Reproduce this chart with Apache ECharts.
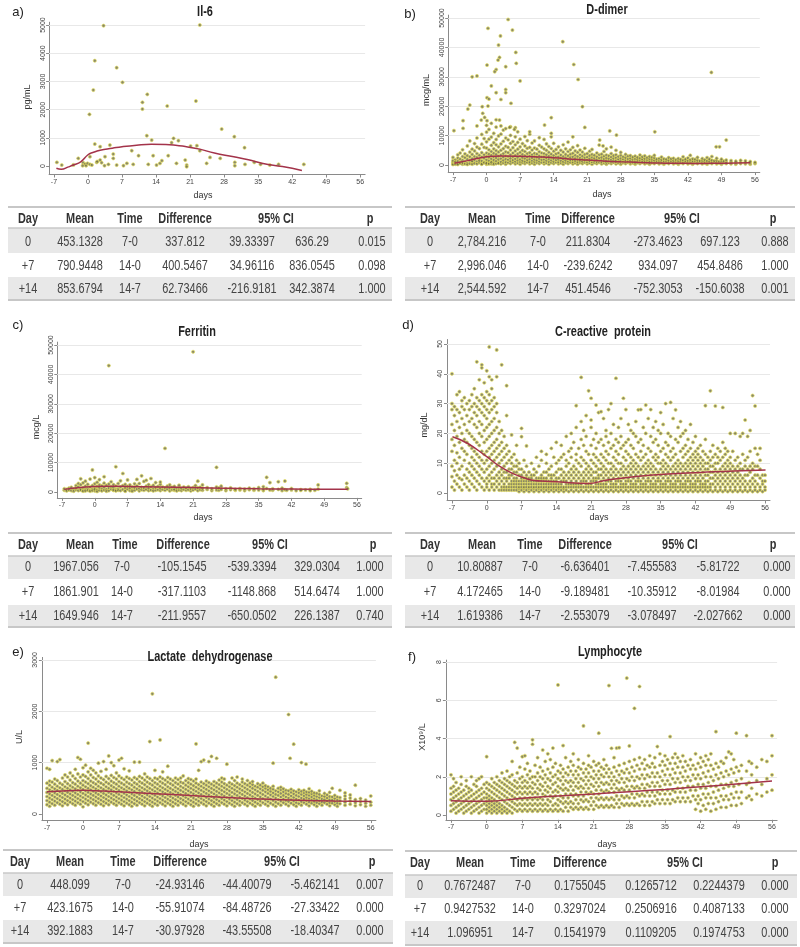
<!DOCTYPE html>
<html><head><meta charset="utf-8">
<script src="https://cdn.jsdelivr.net/npm/echarts@6/dist/echarts.min.js"></script>
<style>html,body{margin:0;padding:0;background:#fff}#c{width:800px;height:947px}</style>
</head><body><div id="c"></div>
<script>
// ---------------- DATA ----------------
const panelLetters = ['a)','b)','c)','d)','e)','f)'];
const panelTitles = ['Il-6','D-dimer','Ferritin','C-reactive  protein','Lactate  dehydrogenase','Lymphocyte'];
const yUnits = ['pg/mL','mcg/mL','mcg/L','mg/dL','U/L','X10\u2079/L'];
const xName = 'days';
const dayTicks = [-7,0,7,14,21,28,35,42,49,56];
const il6Ticks = [0,1000,2000,3000,4000,5000];
const ddTicks = [0,10000,20000,30000,40000,50000];
const ferTicks = [0,10000,20000,30000,40000,50000];
const crpTicks = [0,10,20,30,40,50];
const ldhTicks = [0,1000,2000,3000];
const lymTicks = [0,2,4,6,8];

const il6Pts = [[3.2,4976],[23,5000],[1.4,3735],[5.9,3487],[7.1,2967],[1.1,2695],[12.2,2541],[11.2,2258],[11.2,2021],[22.2,2305],[16.3,2128],[0.3,1832],[27.5,1312],[30.1,1040],[12.1,1075],[13.1,922],[17.6,981],[18.6,898],[17.2,827],[1.4,780],[4.5,745],[2.5,686],[21.1,709],[22.4,721],[32.2,650],[23,544],[9,544],[10.4,366],[13.4,366],[16.5,366],[5.2,425],[3.5,331],[-2,272],[0.4,331],[2.5,213],[5.2,272],[25.1,307],[27.2,272],[30.2,130],[34.2,130],[35.5,59],[37.4,35],[39.2,59],[44.4,59],[-6.4,130],[-5.4,35],[-1,118],[-0.6,71],[-0.1,95],[0.4,59],[-1.1,12],[-0.4,12],[0.8,35],[1.8,130],[2.8,118],[3.4,12],[4.2,59],[5.9,35],[7.3,12],[8,95],[9.3,59],[12.4,59],[14.1,35],[14.8,95],[15.2,190],[18.2,95],[20,213],[20.3,35],[20.3,-24],[24.4,95],[30.2,12],[32.3,59],[-3,40],[1.9,160]];
const il6Fit = [[-6.5,-80],[-5.5,-115],[-4,-30],[-3,35],[-1.5,150],[0,400],[1,480],[2.5,560],[5,630],[7,685],[10,740],[13,770],[16,765],[18,740],[20,690],[23,600],[26,460],[30,330],[33,220],[36,90],[40,-20],[44,-160]];

const ddOut = [[4.5,49500],[0.3,46500],[5.4,45900],[2.9,43900],[15.9,41960],[2.5,40800],[6.1,38300],[46.9,31500],[2.7,36600],[2.4,35700],[6.2,34600],[18.2,34200],[0.1,34000],[4,33450],[2,32500],[1.7,31750],[-3,30000],[-2,30300],[19.1,29100],[7,28600],[1,26900],[4,25700],[4,24600],[2,24600],[3,22300],[0.1,22900],[0.5,22450],[5.1,21000],[20,19850],[-3.5,20400],[0.3,20070],[-0.9,19850],[-3.9,19050],[-0.8,17600],[-0.4,16200],[13.5,16100],[0.1,15100],[-4.9,15100],[2.7,15300],[20.5,12800],[12.1,13600],[35.1,11300],[25.7,11600],[27.1,10200],[50,8500],[48.6,6200],[47.9,6200],[-6.8,11700],[-4.9,12500],[-2,13300],[-1.1,15300],[4.8,12800],[5.8,12100],[9,11300],[13.5,10800],[18,9600],[23.6,8500],[24.3,6500]];
const ddLow = [
[-7,[400,900,1500,200,2600]],[-6.5,[700,300,1800,1100]],[-6,[500,1300,2400,3500,200]],[-5.5,[900,2000,600,4100]],
[-5,[300,1600,2900,800,5200]],[-4.5,[1100,2500,400,3800]],[-4,[700,1900,3200,6500,200]],[-3.5,[1500,2800,500,4400,8200]],
[-3,[900,2200,3600,5400,300,1300]],[-2.5,[600,1700,2900,4800,7300]],[-2,[1200,2600,400,3900,6100,9200]],[-1.5,[800,2000,3300,5600,1500]],
[-1,[500,1400,2700,4200,7100,10400,300]],[-0.5,[1100,2300,3500,6000,800,9000]],[0,[300,900,1800,2900,4100,5800,7900,11200,13500,600]],
[0.5,[700,1500,2600,3700,5200,8800,12100,400]],[1,[400,1200,2100,3300,4600,6700,9500,14200,900]],[1.5,[800,1700,2800,4000,5500,7600,10800,300]],
[2,[500,1300,2400,3600,4900,6900,8700,12900,15400]],[2.5,[900,1900,3000,4400,6200,9900,600]],[3,[400,1100,2200,3400,5000,7200,10500,13300]],
[3.5,[700,1600,2700,3900,5600,8100,11900]],[4,[300,1000,2000,3100,4500,6400,9200,12400]],[4.5,[800,1800,2900,4200,6000,8600]],
[5,[500,1300,2300,3500,5100,7400,10100,13000]],[5.5,[900,1700,2800,4100,5900,8000]],[6,[400,1200,2100,3300,4800,6900,9600,12700]],
[6.5,[700,1600,2600,3800,5400,7700,11300]],[7,[300,1100,1900,3000,4300,6200,8800]],[7.5,[800,1500,2500,3600,5000,7300]],
[8,[500,1200,2200,3200,4600,6500,9700]],[8.5,[900,1700,2700,3900,5700,8300]],[9,[400,1000,2000,3000,4200,6000,10500]],
[9.5,[700,1500,2400,3500,5100,7500]],[10,[300,1100,1900,2900,4000,5800,8200]],[10.5,[800,1600,2600,3700,5400]],
[11,[500,1200,2100,3100,4500,6700,9300]],[11.5,[900,1800,2800,4100,6100]],[12,[400,1000,1900,2900,3900,5500,8700]],
[12.5,[700,1500,2400,3500,5000,7200]],[13,[300,1100,2000,3000,4300,6300]],[13.5,[800,1600,2600,3700,5600,9600]],
[14,[500,1200,2100,3200,4700,7400]],[14.5,[900,1700,2700,3800,5300]],[15,[400,1000,1900,2800,4100,6200]],
[15.5,[700,1500,2400,3400,5000]],[16,[300,1100,2000,2900,4400,6900]],[16.5,[800,1600,2500,3600,5500]],
[17,[500,1200,2100,3100,4600,7800]],[17.5,[900,1700,2600,3700,5200]],[18,[400,1000,1800,2800,4000,6000]],
[18.5,[700,1400,2300,3300,4800]],[19,[300,1000,1900,2900,4300,6600]],[19.5,[800,1500,2400,3500,5100]],
[20,[500,1200,2000,3000,4400]],[20.5,[900,1600,2500,3600,5700]],[21,[400,1000,1800,2700,3900]],
[21.5,[700,1400,2200,3200,4700]],[22,[300,1000,1700,2600,3600,5300]],[22.5,[800,1500,2300,3300]],
[23,[500,1100,1900,2800,4100]],[23.5,[900,1600,2400,3500,6800]],[24,[400,1000,1700,2600,3700]],
[24.5,[700,1300,2100,3000,4600]],[25,[300,900,1600,2400,3400,5500]],[25.5,[800,1400,2200,3100]],
[26,[500,1100,1800,2700,3900,6100]],[26.5,[900,1500,2300,3200]],[27,[400,1000,1600,2500,3500,5000]],
[27.5,[700,1300,2000,2900]],[28,[300,900,1500,2300,3300,4300]],[28.5,[800,1300,2000,2800]],
[29,[500,1000,1700,2500,3600]],[29.5,[900,1400,2100,3000]],[30,[400,900,1500,2300,3200]],
[30.5,[700,1200,1900,2700]],[31,[300,800,1400,2100,3000]],[31.5,[800,1300,1900,2600]],
[32,[500,1000,1600,2300,3400]],[32.5,[900,1400,2000,2800]],[33,[400,900,1500,2200,3100]],
[33.5,[700,1200,1800,2500]],[34,[300,800,1400,2100,2900]],[34.5,[800,1300,1900,2600]],
[35,[500,1000,1600,2400,3300]],[35.5,[900,1400,2000]],[36,[400,900,1500,2200]],[36.5,[700,1200,1800,2700]],
[37,[300,800,1400,2100]],[37.5,[800,1300,1900]],[38,[500,1000,1600,2500]],[38.5,[900,1400,2100]],
[39,[400,900,1500,2300]],[39.5,[700,1200,1800]],[40,[300,800,1400,2200]],[40.5,[800,1300,1900]],
[41,[500,1000,1600,2800]],[41.5,[900,1400,2000]],[42,[400,900,1500,2400]],[42.5,[700,1200,1800,3300]],
[43,[300,800,1400,2100]],[43.5,[800,1300,1900]],[44,[500,1000,1600,2600]],[44.5,[900,1400]],
[45,[400,900,1500,2200]],[45.5,[700,1200,1800]],[46,[300,800,1400,2500]],[46.5,[800,1300,2000]],
[47,[500,1000,1600,2900]],[47.5,[900,1400]],[48,[400,900,1500,2300]],[48.5,[700,1200]],
[49,[300,800,1400,2000]],[49.5,[800,1300]],[50,[500,1000,1700]],[51,[400,900,1500]],[52,[300,800,1300]],
[53,[500,1000,1600]],[54,[400,900,1400]],[55,[300,800,1200]],[56,[500,900]]];
const ddFit = [[-6.7,600],[-4,1500],[-2,2200],[0,2800],[3,3100],[7,3000],[10,2800],[14,2500],[18,2000],[21,1700],[25,1300],[28,1100],[32,900],[36,700],[40,600],[44,550],[48,600],[52,700],[55,750]];

const ferPts = [
[-6.5,[600,1100]],[-6,[900,400]],[-5.5,[1300,700]],[-5,[500,1600]],[-4.5,[1000,300]],
[-4,[800,1400,2200]],[-3.5,[500,1800,2900]],[-3,[1100,2500,4500,700]],[-2.5,[600,1500,3100,300]],
[-2,[900,2000,3700,400]],[-1.5,[1200,2600,600]],[-1,[700,1700,4400,300]],[-0.5,[1000,2200,7500,500]],
[0,[400,1300,2800,4900,900]],[0.5,[800,1900,3300,200]],[1,[600,1500,2400,4200]],[1.5,[1100,2100,400]],
[2,[700,1600,3000,5200]],[2.5,[900,2300,300]],[3,[500,1400,2700,43000]],[3.5,[1000,1800,3500]],
[4,[600,1500,2500,700]],[4.5,[800,2000,8600,400]],[5,[1200,2900,600]],[5.5,[500,1700,3800]],
[6,[900,2200,6300]],[6.5,[600,1400,2600,300]],[7,[1000,1900,4100]],[7.5,[500,1300,2400]],
[8,[800,1700,300]],[8.5,[600,1500,2800]],[9,[1000,2100,4300]],[9.5,[400,1200,2900]],
[10,[800,1600,5500]],[10.5,[600,1400,3600]],[11,[900,2000,4000]],[11.5,[500,1300,2500]],
[12,[700,1800,4600]],[12.5,[1000,2300,400]],[13,[600,1500,3200]],[13.5,[800,1900]],
[14,[500,1200,2600,3400]],[14.5,[900,1700]],[15,[600,1400,14850]],[15.5,[1000,2000]],
[16,[400,1300,2400]],[16.5,[800,1600]],[17,[600,1900,900]],[17.5,[1100,400]],
[18,[700,1500,2300]],[18.5,[500,1200]],[19,[900,1700]],[19.5,[600,1300]],
[20,[800,1800]],[20.5,[400,1100]],[21,[700,1500,47700]],[21.5,[1000,2200]],
[22,[500,1400,3700]],[22.5,[800,1600]],[23,[600,1200,2400]],[24,[900,1500]],
[25,[500,1100]],[26,[700,1700,8400]],[26.5,[600,1300]],[27,[900,2000]],[28,[500,1100]],
[29,[800,1400]],[30,[600,900]],[31,[700,1200]],[32,[500,1000]],[33,[800,1300]],
[34,[600,1100]],[35,[700,1500]],[36,[500,900,1800]],[36.7,[5000,1200]],[37.4,[3200,700]],
[38,[600,1100]],[39.2,[3500,900]],[40,[500,1300]],[40.6,[3740,800]],[41,[600]],
[42,[700,1200]],[43,[500]],[44,[800,600]],[45,[700]],[46,[900,500]],[47,[600]],
[47.7,[2400,1000]],[53.8,[2950,1500]],[54,[1100]]];
const ferFit = [[-6.5,900],[-3,1500],[0,1900],[3,2000],[7,1900],[14,1700],[21,1500],[28,1300],[35,1100],[42,1000],[49,950],[54,950]];

const crpPts = [
[-7,[2,5.5,9,14,18,23,28,30,40]],[-6.5,[1,4,7.5,11,16,21,26,29]],[-6,[3,6,10,13.5,19,24,28,33]],
[-5.5,[2,5,8,12,17,22,27,34]],[-5,[1,4.5,9,15,20,25,29,31]],[-4.5,[3,6,11,14,18,23,28,32]],
[-4,[2,5,8,13,17,21,26,30]],[-3.5,[1,4,7,10,16,20,24,28,31]],[-3,[3,6,9,12,15,19,25,29,33]],
[-2.5,[2,5,8,11,14,18,23,27,30,35]],[-2,[1,4,7,10,13,17,22,26,29,32,44]],[-1.5,[3,6,9,12,16,20,24,28,31,38]],
[-1,[2,5,8,11,14,19,23,27,30,33,43,42]],[-0.5,[1,4,7,10,13,17,21,26,29,32,37]],
[0,[2,3,5,8,11,14,18,22,25,28,31,34,41]],[0.5,[1,4,6,9,12,15,19,23,27,30,33,49,39]],
[1,[2,3,5,7,10,13,16,20,24,28,31,35,38]],[1.5,[1,3,5,8,11,14,17,21,25,29,32]],
[2,[2,4,6,9,12,15,18,22,27,30,48,39]],[2.5,[1,3,5,7,10,13,16,20,24]],[3,[1,2,4,6,8,11,14,17,21,43]],
[3.5,[1,2,3,5,7,9,12,15,19]],[4,[1,2,4,5,7,10,13,16,26,36]],[4.5,[1,2,3,5,6,8,11,14]],
[5,[1,2,3,4,6,8,10,12,19.5]],[5.5,[1,2,3,4,5,7,9,13]],[6,[1,2,3,4,5,7,9,11,16]],[6.5,[0.5,1.5,2,3,4,6,8,10]],
[7,[1,2,3,4,5,6,8,21.7,18.9]],[7.5,[0.5,1.5,2,3,4,5,7,11]],[8,[1,2,3,4,5,6,9,15.8]],[8.5,[0.5,1.5,2,3,4,5,7]],
[9,[1,2,3,4,5,6,10]],[9.5,[0.5,1.5,2,3,4,6,8]],[10,[1,2,3,4,5,7,12]],[10.5,[0.5,1.5,2,3,4,5,9]],
[11,[1,2,3,4,5,6,11,14]],[11.5,[0.5,1.5,2,3,4,5,7]],[12,[1,2,3,4,5,7,10,13]],[12.5,[0.5,1.5,2,3,4,6,8]],
[13,[1,2,3,4,5,6,9,15]],[13.5,[0.5,1.5,2,3,4,6,12]],[14,[1,2,3,4,5,7,10,17]],[14.5,[0.5,1.5,2,3,5,8,11]],
[15,[1,2,3,4,6,8,12,16]],[15.5,[0.5,1.5,2,4,5,7,13]],[16,[1,2,3,4,6,9,11,19]],[16.5,[0.5,2,3,5,7,10,14]],
[17,[1,2,3,4,6,8,12,15,20]],[17.5,[0.5,2,3,5,7,9,17]],[18,[1,2,3,4,6,8,11,13,22,29.3]],[18.5,[0.5,2,3,5,7,10,15]],
[19,[1,2,3,4,6,9,12,18,24,38.8]],[19.5,[0.5,2,4,5,7,11,16,21]],[20,[1,2,3,4,6,8,10,14,19,26]],
[20.5,[0.5,2,3,5,7,9,13,34.3]],[21,[1,2,3,4,6,8,11,16,22,24.5,31.8]],[21.5,[0.5,2,4,5,7,10,13,18]],
[22,[1,2,3,4,5,7,9,12,15,20,29.5]],[22.5,[0.5,2,3,5,6,8,11,17,27]],[23,[1,2,3,4,6,8,10,13,18,27.3]],
[23.5,[0.5,2,3,5,7,9,12,16,25]],[24,[1,2,3,4,6,8,11,14,19,21]],[24.5,[0.5,2,4,5,7,10,13,17,28]],
[25,[1,2,3,4,6,8,10,15,20,30]],[25.5,[0.5,2,3,5,7,9,12,16,23]],[26,[1,2,3,4,6,8,11,14,18,38.5]],
[26.5,[0.5,2,4,5,7,10,13,17,22]],[27,[1,2,3,4,6,8,10,15,19,25]],[27.5,[0.5,2,3,5,7,9,12,16,31.8]],
[28,[1,2,3,4,6,8,11,14,17,28]],[28.5,[0.5,2,4,5,7,9,13,18,23]],[29,[1,2,3,4,6,8,10,12,16,21]],
[29.5,[0.5,2,3,5,7,9,11,15,20]],[30,[1,2,3,4,6,8,10,13,19,24]],[30.5,[0.5,2,4,5,7,9,12,17,27.9]],
[31,[1,2,3,4,6,8,11,14,18,28]],[31.5,[0.5,2,3,5,7,9,12,16,22]],[32,[1,2,3,4,6,8,10,13,20,29.5]],
[32.5,[0.5,2,4,5,7,9,11,15,25]],[33,[1,2,3,4,6,8,10,14,19,28]],[33.5,[0.5,2,3,5,7,9,12,17,22]],
[34,[1,2,3,4,6,8,11,13,18,24]],[34.5,[0.5,2,4,5,7,10,12,16,21]],[35,[1,2,3,4,6,8,10,14,20,27]],
[35.5,[0.5,2,3,5,7,9,11,15,23]],[36,[1,2,3,4,6,8,10,13,17,30]],[36.5,[0.5,2,4,5,7,9,12,16,20]],
[37,[1,2,3,4,6,8,11,14,19,30.4]],[37.5,[0.5,2,3,5,7,9,12,15,25]],[38,[1,2,3,4,6,8,10,13,18,27.9]],
[38.5,[0.5,2,4,5,7,9,11,17,22]],[39,[1,2,3,4,6,8,10,14,19,24]],[39.5,[0.5,2,3,5,7,9,12,15,20]],
[40,[1,2,3,4,6,8,10,13,16,21]],[40.5,[0.5,2,4,5,7,9,11,14,18]],[41,[1,2,3,4,6,8,10,12,15,23]],
[41.5,[0.5,2,3,5,7,9,11,13,17]],[42,[1,2,3,4,6,8,10,12,14,19]],[42.5,[0.5,2,4,5,7,9,11,13,15]],
[43,[1,2,3,4,6,8,10,12,16]],[43.5,[0.5,2,3,5,7,9,11,14]],[44,[1,2,3,4,6,8,10,13,18,29.3]],
[44.5,[0.5,2,4,6,8,10,12]],[45,[1,2,3,5,7,9,11,14,34.3]],[45.5,[0.5,3,5,7,9,12,16]],
[46,[1,2,4,6,8,10,13,29.2]],[46.5,[0.5,3,5,7,10,12,15]],[47,[1,2,4,6,8,11,14]],[47.5,[0.5,3,5,7,9,12,17,28.7]],
[48,[1,2,4,6,8,10,13,15]],[48.5,[0.5,3,5,7,9,11,14]],[49,[1,2,4,6,8,10,12,20]],[49.5,[0.5,3,5,7,9,14]],
[50,[1,2,4,6,8,11,20]],[50.5,[0.5,3,5,7,9,12]],[51,[1,2,4,6,8,10,19]],[51.5,[0.5,3,5,8,13,20]],
[52,[1,2,4,6,9,11,24.5]],[52.5,[0.5,3,6,8,12,19]],[53,[1,2,4,7,9,14,21]],[53.5,[0.5,3,5,8,10,32.7]],
[54,[1,2,4,6,9,29.2,15]],[54.5,[0.5,3,6,9,13]],[55,[1,2,5,8,11,15]],[55.5,[0.5,3,6,4]],[56,[1,2,4,6]]];
const crpFit = [[-6.9,18.9],[-3.9,16.7],[0,12.2],[2.8,8.8],[6.8,5.5],[10.9,4],[14.2,3.8],[20.3,3.2],[24.3,4.4],[29.6,5.5],[36.4,6.4],[43,6.9],[49.8,7.4],[56.1,7.7]];

const ldhPts = [
[-7,[180,260,340,420,500,600,890]],[-6.5,[150,230,310,390,470,560,870,640]],[-6,[200,280,360,440,520,620,1040]],
[-5.5,[170,250,330,410,490,580,680]],[-5,[220,300,380,460,540,650,1020]],[-4.5,[190,270,350,430,510,600,1060]],
[-4,[160,240,320,400,480,570,700]],[-3.5,[210,290,370,450,530,630,760]],[-3,[180,260,340,420,500,590,720]],
[-2.5,[230,310,390,470,550,660,800]],[-2,[200,280,360,440,520,610,740]],[-1.5,[170,250,330,410,490,580,690,870]],
[-1,[220,300,380,460,540,640,780,1100]],[-0.5,[190,270,350,430,510,600,720,1066]],
[0,[140,240,320,400,480,560,650,760,900]],[0.5,[210,290,370,450,530,620,730,950]],
[1,[180,260,340,420,500,590,690,820,1380]],[1.5,[230,310,390,470,550,640,760,890]],
[2,[200,280,360,440,520,610,710,850]],[2.5,[170,250,330,410,490,580,680,800]],
[3,[220,300,380,460,540,630,740,990]],[3.5,[190,270,350,430,510,600,700,830]],
[4,[160,240,320,400,480,570,670,1020]],[4.5,[210,290,370,450,530,620,730,870]],
[5,[180,260,340,420,500,590,690,1130]],[5.5,[230,310,390,470,550,640,750,1000]],
[6,[200,280,360,440,520,610,710,940]],[6.5,[170,250,330,410,490,580,680,800]],
[7,[220,300,380,460,540,630,740,1050]],[7.5,[190,270,350,430,510,600,700,1085]],
[8,[160,240,320,400,480,570,670,880]],[8.5,[210,290,370,450,530,620,720]],
[9,[180,260,340,420,500,590,690,840]],[9.5,[150,230,310,390,470,560,660]],
[10,[200,280,360,440,520,610,710,1010]],[10.5,[170,250,330,410,490,580,680]],
[11,[220,300,380,460,540,630,730,1010]],[11.5,[190,270,350,430,510,600,700]],
[12,[160,240,320,400,480,570,660,780]],[12.5,[210,290,370,450,530,620,720]],
[13,[180,260,340,420,500,590,690,1410]],[13.5,[150,230,310,390,470,560,650,2340]],
[14,[200,280,360,440,520,610,700,850]],[14.5,[170,250,330,410,490,580,680]],
[15,[220,300,380,460,540,630,720,1443]],[15.5,[190,270,350,430,510,600,690,820]],
[16,[160,240,320,400,480,570,660]],[16.5,[210,290,370,450,530,620,710,930]],
[17,[180,260,340,420,500,590,680]],[17.5,[150,230,310,390,470,560,650]],
[18,[200,280,360,440,520,610,700]],[18.5,[170,250,330,410,490,580,670]],
[19,[220,300,380,460,540,620,700]],[19.5,[190,270,350,430,510,600,740]],
[20,[160,240,320,400,480,560,650]],[20.5,[210,290,370,450,530,610,690]],
[21,[180,260,340,420,500,580,670]],[21.5,[150,230,310,390,470,550,640]],
[22,[200,280,360,440,520,600,680,1365]],[22.5,[170,250,330,410,490,570,850]],
[23,[220,300,380,460,540,620,1020]],[23.5,[190,270,350,430,510,590,1050]],
[24,[160,240,320,400,480,560,640]],[24.5,[210,290,370,450,530,610,1020]],
[25,[180,260,340,420,500,580,1120]],[25.5,[150,230,310,390,470,550,630]],
[26,[200,280,360,440,520,600,1085]],[26.5,[170,250,330,410,490,570,660]],
[27,[220,300,380,460,540,620,700]],[27.5,[190,270,350,430,510,590,680]],
[28,[160,240,320,400,480,560,970]],[28.5,[210,290,370,450,530,610]],
[29,[180,260,340,420,500,580,700]],[29.5,[150,230,310,390,470,550,650]],
[30,[200,280,360,440,520,600,720]],[30.5,[170,250,330,410,490,570]],
[31,[220,300,380,460,540,620,680]],[31.5,[190,270,350,430,510,590]],
[32,[160,240,320,400,480,560,650]],[32.5,[210,290,370,450,530,600]],
[33,[180,260,340,420,500,570,630]],[33.5,[150,230,310,390,470,540]],
[34,[200,280,360,440,520,590]],[34.5,[170,250,330,410,490,560]],
[35,[220,300,380,460,530,600]],[35.5,[190,270,350,430,500,550]],
[36,[160,240,320,400,470,530]],[36.5,[210,290,370,440,500]],
[37,[180,260,340,410,480,990,540]],[37.5,[150,230,310,380,450,2665]],
[38,[200,280,360,430,500]],[38.5,[170,250,330,400,470,520]],
[39,[220,290,360,430,490]],[39.5,[190,260,330,400,460]],
[40,[160,240,310,380,450,1937]],[40.3,[1085]],[40.5,[210,280,350,420,480]],
[41,[180,250,320,390,450,1360]],[41.5,[150,220,290,360,430]],[42,[200,270,340,410,470]],
[42.5,[170,240,310,380,440,1000]],[43,[220,290,350,410,460]],[43.4,[970]],
[43.5,[190,260,320,380,430]],[44,[160,230,300,360,420,490]],[44.5,[210,270,330,390,440]],
[45,[180,240,300,360,410]],[45.5,[150,220,280,340,400]],[46,[200,260,320,380,450]],
[46.5,[170,230,290,350]],[47,[220,280,340,400]],[47.5,[190,250,310,370]],
[48,[160,220,280,340,420]],[48.5,[210,270,330,500]],[49,[180,240,300,360]],
[49.5,[150,210,270,330]],[50,[200,260,320,460]],[51,[170,230,290,350,410]],
[52,[190,250,310,370]],[53,[160,220,280,560]],[54,[180,240,300]],[55,[150,210,270]],[56,[170,230,350]]];
const ldhFit = [[-7,430],[-3,450],[0,460],[4,445],[7,430],[14,395],[21,360],[28,320],[35,290],[42,268],[49,250],[56,240]];

const lymPts = [
[-7,[0.2,0.5,0.8,1.1,1.4,2.1]],[-6.5,[0.3,0.6,0.9,1.2,1.5,1.9]],[-6,[0.1,0.4,0.7,1.0,1.3,1.7]],
[-5.5,[0.2,0.5,0.8,1.1,1.4]],[-5,[0.3,0.6,0.9,1.2,1.6,2.0]],[-4.5,[0.1,0.4,0.7,1.0,1.3]],
[-4,[0.2,0.5,0.8,1.1,1.5,1.8]],[-3.5,[0.3,0.6,0.9,1.2,1.4]],[-3,[0.1,0.4,0.7,1.0,1.3,2.0]],
[-2.5,[0.2,0.5,0.8,1.1,1.6]],[-2,[0.3,0.6,0.9,1.2,1.5,1.8]],[-1.5,[0.1,0.4,0.7,1.0,1.3,1.9]],
[-1,[0.2,0.5,0.8,1.1,1.4,2.0]],[-0.5,[0.3,0.6,0.9,1.2,1.6]],
[0,[0.1,0.3,0.5,0.7,0.9,1.1,1.4,1.7,3.05]],[0.5,[0.2,0.4,0.6,0.8,1.0,1.3,1.6]],
[1,[0.1,0.3,0.5,0.7,0.9,1.2,1.5,1.9]],[1.5,[0.2,0.4,0.6,0.8,1.1,1.4,1.7]],
[2,[0.1,0.3,0.5,0.7,1.0,1.3,1.6,2.0]],[2.5,[0.2,0.4,0.6,0.9,1.2,1.5,1.8]],
[3,[0.1,0.3,0.5,0.8,1.1,1.4,1.7,2.2]],[3.5,[0.2,0.4,0.7,1.0,1.3,1.6,1.9]],
[4,[0.1,0.3,0.6,0.9,1.2,1.5,1.8,2.3]],[4.5,[0.2,0.5,0.8,1.1,1.4,1.7,2.0]],
[5,[0.1,0.4,0.7,1.0,1.3,1.6,2.1,2.8]],[5.5,[0.3,0.6,0.9,1.2,1.5,1.8,3.8]],
[6,[0.2,0.5,0.8,1.1,1.4,1.7,2.2,3.5]],[6.5,[0.3,0.6,0.9,1.2,1.5,1.9,2.5]],
[7,[0.2,0.5,0.8,1.1,1.4,1.7,2.0,3.05]],[7.5,[0.3,0.6,0.9,1.2,1.5,1.8,2.4,3.1]],
[8,[0.2,0.5,0.8,1.1,1.4,1.7,2.1,2.7]],[8.5,[0.3,0.6,0.9,1.2,1.5,1.9,2.3]],
[9,[0.2,0.5,0.8,1.1,1.4,1.7,2.0,3.93,3.7]],[9.5,[0.3,0.6,0.9,1.2,1.6,2.0,2.6]],
[10,[0.2,0.5,0.8,1.1,1.4,1.8,2.2,3.0]],[10.5,[0.3,0.6,0.9,1.3,1.6,2.0,2.5]],
[11,[0.2,0.5,0.8,1.1,1.5,1.9,2.3,3.4]],[11.5,[0.3,0.6,1.0,1.3,1.7,2.1,2.8]],
[12,[0.2,0.5,0.8,1.2,1.5,1.9,2.4,3.2]],[12.5,[0.3,0.7,1.0,1.4,1.8,2.2,2.9]],
[13,[0.2,0.5,0.9,1.2,1.6,2.0,2.5,3.5]],[13.5,[0.3,0.6,1.0,1.3,1.7,2.1,2.7]],
[14,[0.2,0.5,0.8,1.2,1.5,1.9,2.3,6.8]],[14.5,[0.3,0.7,1.0,1.4,1.8,2.2,2.6]],
[15,[0.2,0.6,0.9,1.3,1.6,2.0,2.4,3.63]],[15.5,[0.4,0.7,1.1,1.4,1.8,2.2,3.0]],
[16,[0.2,0.6,0.9,1.3,1.7,2.1,2.5]],[16.5,[0.4,0.7,1.1,1.5,1.8,2.3,2.8]],
[17,[0.3,0.6,1.0,1.3,1.7,2.1,2.6,3.2]],[17.5,[0.4,0.8,1.1,1.5,1.9,2.3]],
[18,[0.3,0.6,1.0,1.4,1.7,2.1,2.5,2.9]],[18.5,[0.4,0.8,1.2,1.5,1.9,2.4]],
[19,[0.3,0.7,1.0,1.4,1.8,2.2,2.7,4.66]],[19.5,[0.4,0.8,1.2,1.6,2.0,2.4]],
[20,[0.3,0.7,1.1,1.4,1.8,2.2,2.6,3.1]],[20.5,[0.5,0.9,1.2,1.6,2.0,2.5]],
[21,[0.3,0.7,1.1,1.5,1.9,2.3,2.8]],[21.5,[0.5,0.9,1.3,1.7,2.1,2.6]],
[22,[0.4,0.8,1.1,1.5,1.9,2.3,2.7,4.28]],[22.5,[0.5,0.9,1.3,1.7,2.1,2.5]],
[23,[0.4,0.8,1.2,1.6,2.0,2.4,2.9]],[23.5,[0.5,0.9,1.3,1.7,2.2,2.6]],
[24,[0.4,0.8,1.2,1.6,2.0,2.4,6.77]],[24.5,[0.5,0.9,1.4,1.8,2.2,3.49]],
[25,[0.4,0.8,1.2,1.6,2.0,2.5,3.0]],[25.5,[0.6,1.0,1.4,1.8,2.3,3.5]],
[26,[0.4,0.8,1.3,1.7,2.1,2.6,3.52]],[26.5,[0.6,1.0,1.4,1.9,2.3]],
[27,[0.5,0.9,1.3,1.7,2.2,2.7]],[27.5,[0.6,1.0,1.5,1.9,2.4,7.16]],
[28,[0.5,0.9,1.3,1.8,2.2,2.8,3.61]],[28.5,[0.6,1.1,1.5,2.0,2.5]],
[29,[0.5,0.9,1.4,1.8,2.3,2.9,5.58]],[29.5,[0.6,1.1,1.5,2.0,2.6]],
[30,[0.5,1.0,1.4,1.9,2.4,3.0,6.72]],[30.5,[0.7,1.1,1.6,2.1,2.7]],
[31,[0.5,1.0,1.4,1.9,2.4,2.9]],[31.5,[0.7,1.2,1.6,2.1,2.6]],
[32,[0.5,1.0,1.5,2.0,2.5,3.1]],[32.5,[0.7,1.2,1.7,2.2,2.7]],
[33,[0.6,1.0,1.5,2.0,2.5,3.0]],[33.5,[0.8,1.2,1.7,2.2,3.58]],
[34,[0.6,1.1,1.5,2.0,2.6,3.2]],[34.5,[0.8,1.3,1.8,2.3,2.8]],
[35,[0.6,1.1,1.6,2.1,2.6,3.1]],[35.5,[0.8,1.3,1.8,2.4,2.9]],
[36,[0.6,1.1,1.6,2.1,2.7,4.1]],[36.5,[0.8,1.3,1.9,2.4,3.0]],
[37,[0.7,1.2,1.7,2.2,2.7,3.2]],[37.5,[0.9,1.4,1.9,2.5,3.0]],
[38,[0.7,1.2,1.7,2.2,2.8]],[38.5,[0.9,1.4,2.0,2.5,3.1]],
[39,[0.7,1.2,1.8,2.3,2.8]],[39.5,[0.9,1.5,2.0,2.6]],
[40,[0.7,1.3,1.8,2.4,2.9]],[40.5,[1.0,1.5,2.1,2.6]],
[41,[0.3,0.8,1.3,1.9,2.4,3.2]],[41.5,[0.6,1.0,1.6,2.1,2.7]],
[42,[0.2,0.8,1.4,1.9,2.5,3.0]],[42.5,[0.5,1.1,1.6,2.2,2.8]],
[43,[0.3,0.9,1.4,2.0,2.6,3.1]],[43.5,[0.6,1.1,1.7,2.3,2.9]],
[44,[0.2,0.9,1.5,2.0,2.6,3.2]],[44.5,[0.6,1.2,1.8,2.4]],
[45,[0.3,0.9,1.5,2.1,2.7,4.36]],[45.5,[0.7,1.3,1.9,2.5]],
[46,[0.4,1.0,1.6,2.2,2.8]],[46.5,[0.8,1.4,2.0,2.7]],
[47,[0.4,1.0,1.6,2.3,3.0]],[47.5,[0.8,1.5,2.1,3.3]],
[48,[0.5,1.1,1.7,2.4,3.2]],[48.5,[0.9,1.5,2.2,2.9]],
[49,[0.5,1.2,1.8,2.5,4.28]],[49.5,[0.9,1.6,2.3]],[50,[0.6,1.2,1.9,2.6]],
[51,[0.9,1.6,2.3,4.15]],[51.5,[1.0,1.7,2.8]],[52,[0.8,1.4,2.1,2.7]],[53,[1.1,1.8,2.5]],
[54,[1.0,1.6,2.9]],[55,[1.2,1.9,2.8]],[56,[1.3,2.1,3.1,4.15]]];
const lymFit = [[-7,0.75],[0,0.72],[7,0.88],[14,1.0],[21,1.1],[28,1.22],[35,1.34],[42,1.48],[49,1.62],[56,1.78]];

const tableHeader = ['Day','Mean','Time','Difference','95% CI','p'];
const il6Table = [['0','453.1328','7-0','337.812','39.33397','636.29','0.015'],['+7','790.9448','14-0','400.5467','34.96116','836.0545','0.098'],['+14','853.6794','14-7','62.73466','-216.9181','342.3874','1.000']];
const ddTable = [['0','2,784.216','7-0','211.8304','-273.4623','697.123','0.888'],['+7','2,996.046','14-0','-239.6242','934.097','454.8486','1.000'],['+14','2,544.592','14-7','451.4546','-752.3053','-150.6038','0.001']];
const ferTable = [['0','1967.056','7-0','-105.1545','-539.3394','329.0304','1.000'],['+7','1861.901','14-0','-317.1103','-1148.868','514.6474','1.000'],['+14','1649.946','14-7','-211.9557','-650.0502','226.1387','0.740']];
const crpTable = [['0','10.80887','7-0','-6.636401','-7.455583','-5.81722','0.000'],['+7','4.172465','14-0','-9.189481','-10.35912','-8.01984','0.000'],['+14','1.619386','14-7','-2.553079','-3.078497','-2.027662','0.000']];
const ldhTable = [['0','448.099','7-0','-24.93146','-44.40079','-5.462141','0.007'],['+7','423.1675','14-0','-55.91074','-84.48726','-27.33422','0.000'],['+14','392.1883','14-7','-30.97928','-43.55508','-18.40347','0.000']];
const lymTable = [['0','0.7672487','7-0','0.1755045','0.1265712','0.2244379','0.000'],['+7','0.9427532','14-0','0.3297024','0.2506916','0.4087133','0.000'],['+14','1.096951','14-7','0.1541979','0.1109205','0.1974753','0.000']];

// ---------------- BUILD ----------------
function expand(groups){const o=[];groups.forEach(g=>g[1].forEach(v=>o.push([g[0],v])));return o;}
const scatterData = [il6Pts, expand(ddLow).concat(ddOut), expand(ferPts), expand(crpPts), expand(ldhPts), expand(lymPts)];
const fitData = [il6Fit, ddFit, ferFit, crpFit, ldhFit, lymFit];
const yTickSets = [il6Ticks, ddTicks, ferTicks, crpTicks, ldhTicks, lymTicks];
const tables = [il6Table, ddTable, ferTable, crpTable, ldhTable, lymTable];

const L = [
 {grid:{left:49.1,top:22.2,width:316,height:152.3}, y:[-300,5100], title:[205,12], letter:[18,12], unit:[28,97], days:[203,196]},
 {grid:{left:448.2,top:15.1,width:311.6,height:157}, y:[-2400,51000], title:[607,10], letter:[410,14], unit:[427,90], days:[602,195]},
 {grid:{left:57.3,top:342.1,width:304.4,height:155.8}, y:[-2000,51000], title:[197,332], letter:[18,325], unit:[37,427], days:[203,518]},
 {grid:{left:447,top:339.5,width:323,height:161}, y:[-2.5,51.5], title:[603,332], letter:[408,325], unit:[425,425], days:[599,518]},
 {grid:{left:41.9,top:657.4,width:334,height:162.7}, y:[-120,3050], title:[210,657], letter:[18,652], unit:[20,737], days:[199,845]},
 {grid:{left:445.9,top:660.1,width:331.2,height:159.7}, y:[-0.25,8.1], title:[610,652], letter:[412,657], unit:[423,737], days:[607,845]}
];
const TL = [
 {x0:8,x1:392,top:207,hdr:219,rows:[242,266,289],bands:[[228,253],[277,299]],bottom:300,cols:[28,80,130,185,252,312,372],hcols:[28,80,130,185,276,370]},
 {x0:405,x1:795,top:207,hdr:219,rows:[242,266,289],bands:[[228,253],[277,299]],bottom:300,cols:[430,482,538,588,658,720,775],hcols:[430,482,538,588,682,773]},
 {x0:8,x1:392,top:533,hdr:545,rows:[567,592,616],bands:[[556,579],[605,626]],bottom:627,cols:[28,76,122,182,252,317,370],hcols:[28,80,125,183,270,373]},
 {x0:405,x1:795,top:533,hdr:545,rows:[567,592,616],bands:[[556,579],[605,626]],bottom:627,cols:[430,480,530,585,652,718,777],hcols:[430,482,530,585,680,773]},
 {x0:3,x1:393,top:850,hdr:862,rows:[885,908,931],bands:[[873,896],[920,942]],bottom:943,cols:[20,70,123,180,247,315,370],hcols:[20,70,123,180,282,372]},
 {x0:405,x1:797,top:851,hdr:863,rows:[886,909,933],bands:[[875,898],[921,944]],bottom:945,cols:[420,470,523,580,651,719,775],hcols:[420,470,523,580,685,775]}
];
const SANS = "'Liberation Sans',Arial,'DejaVu Sans',sans-serif";
const SQ = 0.78; // horizontal squeeze of the condensed table/title lettering

const grids=[],xAxes=[],yAxes=[],series=[],graphic=[];
function txt(text,x,y,font,fill,rot,sx){
  return {type:'text',x:x,y:y,rotation:rot||0,scaleX:sx||1,silent:true,z:10,
    style:{text:text,font:font,fill:fill,textAlign:'center',textVerticalAlign:'middle',align:'center',verticalAlign:'middle'}};
}
const plain = v => String(v);
for(let i=0;i<6;i++){
  const l=L[i];
  grids.push(Object.assign({outerBoundsMode:'none',containLabel:false},l.grid));
  xAxes.push({type:'value',gridIndex:i,min:-8,max:57,
    axisLine:{onZero:false,lineStyle:{color:'#8a8a8a',width:1}},
    axisTick:{show:true,length:3,customValues:dayTicks,lineStyle:{color:'#8a8a8a'}},
    axisLabel:{customValues:dayTicks,formatter:plain,fontSize:7,color:'#444',margin:4,fontFamily:SANS},
    splitLine:{show:false}});
  yAxes.push({type:'value',gridIndex:i,min:l.y[0],max:l.y[1],
    axisLine:{show:true,onZero:false,lineStyle:{color:'#8a8a8a',width:1}},
    axisTick:{show:true,length:3,customValues:yTickSets[i],lineStyle:{color:'#8a8a8a'}},
    axisLabel:{customValues:yTickSets[i],formatter:plain,fontSize:7,color:'#444',margin:3,rotate:90,fontFamily:SANS},
    splitLine:{show:false}});
  series.push({type:'scatter',xAxisIndex:i,yAxisIndex:i,data:scatterData[i],symbolSize:3.2,z:2,
    itemStyle:{color:'#6d6b45',borderColor:'rgba(232,226,96,0.9)',borderWidth:0.9},
    silent:true,animation:false,
    markLine:{silent:true,z:1,symbol:['none','none'],animation:false,label:{show:false},
      lineStyle:{color:'#e8e8e8',width:1,type:'solid'},
      data:yTickSets[i].filter(v=>v!==0).map(v=>({yAxis:v}))}});
  series.push({type:'line',xAxisIndex:i,yAxisIndex:i,data:fitData[i],smooth:true,showSymbol:false,z:3,
    lineStyle:{color:'#a3334a',width:1.5},silent:true,animation:false});
  graphic.push(txt(panelTitles[i],l.title[0],l.title[1],'bold 14px '+SANS,'#222',0,SQ));
  graphic.push(txt(panelLetters[i],l.letter[0],l.letter[1],'13px '+SANS,'#222'));
  graphic.push(txt(yUnits[i],l.unit[0],l.unit[1],'9px '+SANS,'#333',Math.PI/2));
  graphic.push(txt(xName,l.days[0],l.days[1],'9px '+SANS,'#333'));
  const t=TL[i];
  t.bands.forEach(b=>graphic.push({type:'rect',silent:true,z:1,shape:{x:t.x0,y:b[0],width:t.x1-t.x0,height:b[1]-b[0]},style:{fill:'#e8e8e8'}}));
  graphic.push({type:'line',silent:true,z:2,shape:{x1:t.x0,y1:t.top,x2:t.x1,y2:t.top},style:{stroke:'#b5b5b5',lineWidth:1.6}});
  graphic.push({type:'line',silent:true,z:2,shape:{x1:t.x0,y1:t.bands[0][0],x2:t.x1,y2:t.bands[0][0]},style:{stroke:'#c9c9c9',lineWidth:1.4}});
  graphic.push({type:'line',silent:true,z:2,shape:{x1:t.x0,y1:t.bottom,x2:t.x1,y2:t.bottom},style:{stroke:'#b5b5b5',lineWidth:1.6}});
  tableHeader.forEach((h,k)=>graphic.push(txt(h,t.hcols[k],t.hdr,'bold 14px '+SANS,'#333',0,SQ)));
  tables[i].forEach((row,r)=>row.forEach((c,k)=>graphic.push(txt(c,t.cols[k],t.rows[r],'14px '+SANS,'#444',0,SQ))));
}
const chart = echarts.init(document.getElementById('c'),null,{renderer:'canvas'});
chart.setOption({animation:false,backgroundColor:'#fff',grid:grids,xAxis:xAxes,yAxis:yAxes,series:series,graphic:graphic});
</script></body></html>
